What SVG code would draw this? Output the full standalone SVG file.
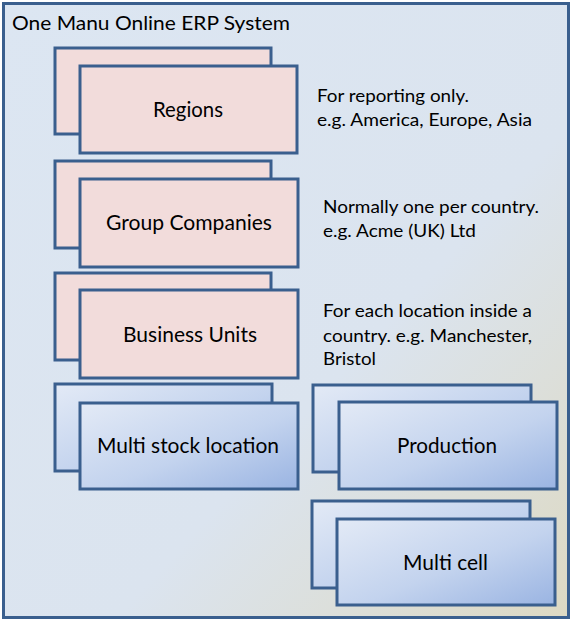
<svg xmlns="http://www.w3.org/2000/svg" width="574" height="621" viewBox="0 0 574 621">
<defs>
<linearGradient id="bg" x1="0" y1="0" x2="1" y2="1">
<stop offset="0" stop-color="#dce6f2"/>
<stop offset="0.6" stop-color="#dbe4ef"/>
<stop offset="1" stop-color="#ddd9c3"/>
</linearGradient>
<linearGradient id="blue" x1="0" y1="0" x2="1" y2="1">
<stop offset="0" stop-color="#e3eaf6"/>
<stop offset="0.55" stop-color="#c3d3ee"/>
<stop offset="1" stop-color="#9ab4e2"/>
</linearGradient>
<style>
.frame{fill:url(#bg);stroke:#3a5f8e;stroke-width:3}
.pink{fill:#f2dcdb;stroke:#3a5f8e;stroke-width:3}
.blue{fill:url(#blue);stroke:#3a5f8e;stroke-width:3}
text{font-family:Lato,"Open Sans","Liberation Sans",sans-serif;fill:#000}
.lbl{font-size:21px;text-anchor:middle}
.note{font-size:18px}
.title{font-size:20px}
</style>
</defs>
<g id="frame">
<rect class="frame" x="3.5" y="3.5" width="565" height="614"/>
<text class="title" x="12" y="30" textLength="278" lengthAdjust="spacingAndGlyphs">One Manu Online ERP System</text>
</g>
<g id="connectors"/>
<g id="regions">
<rect class="pink" x="55" y="48" width="216" height="86"/>
<rect class="pink" x="80" y="66" width="217" height="87"/>
<text class="lbl" x="188" y="117" textLength="70" lengthAdjust="spacingAndGlyphs">Regions</text>
</g>
<g id="regions-note">
<text class="note" x="317" y="102" textLength="152" lengthAdjust="spacingAndGlyphs">For reporting only.</text>
<text class="note" x="317" y="126" textLength="215" lengthAdjust="spacingAndGlyphs">e.g. America, Europe, Asia</text>
</g>
<g id="group-companies">
<rect class="pink" x="55" y="161" width="216" height="87"/>
<rect class="pink" x="80" y="179" width="218" height="88"/>
<text class="lbl" x="189" y="230" textLength="166" lengthAdjust="spacingAndGlyphs">Group Companies</text>
</g>
<g id="group-companies-note">
<text class="note" x="323" y="213" textLength="216" lengthAdjust="spacingAndGlyphs">Normally one per country.</text>
<text class="note" x="323" y="237" textLength="153" lengthAdjust="spacingAndGlyphs">e.g. Acme (UK) Ltd</text>
</g>
<g id="business-units">
<rect class="pink" x="55" y="273" width="216" height="87"/>
<rect class="pink" x="80" y="290" width="218" height="88"/>
<text class="lbl" x="190" y="342" textLength="134" lengthAdjust="spacingAndGlyphs">Business Units</text>
</g>
<g id="business-units-note">
<text class="note" x="323" y="317" textLength="209" lengthAdjust="spacingAndGlyphs">For each location inside a</text>
<text class="note" x="323" y="342" textLength="209" lengthAdjust="spacingAndGlyphs">country. e.g. Manchester,</text>
<text class="note" x="323" y="365" textLength="53" lengthAdjust="spacingAndGlyphs">Bristol</text>
</g>
<g id="multi-stock-location">
<rect class="blue" x="55" y="384" width="217" height="87"/>
<rect class="blue" x="80" y="403" width="218" height="86"/>
<text class="lbl" x="188" y="453" textLength="182" lengthAdjust="spacingAndGlyphs">Multi stock location</text>
</g>
<g id="production">
<rect class="blue" x="313" y="385" width="218" height="87"/>
<rect class="blue" x="339" y="402" width="218" height="87"/>
<text class="lbl" x="447" y="453" textLength="100" lengthAdjust="spacingAndGlyphs">Production</text>
</g>
<g id="multi-cell">
<rect class="blue" x="312" y="501" width="218" height="87"/>
<rect class="blue" x="337" y="519" width="218" height="86"/>
<text class="lbl" x="445.5" y="570" textLength="85" lengthAdjust="spacingAndGlyphs">Multi cell</text>
</g>
</svg>
